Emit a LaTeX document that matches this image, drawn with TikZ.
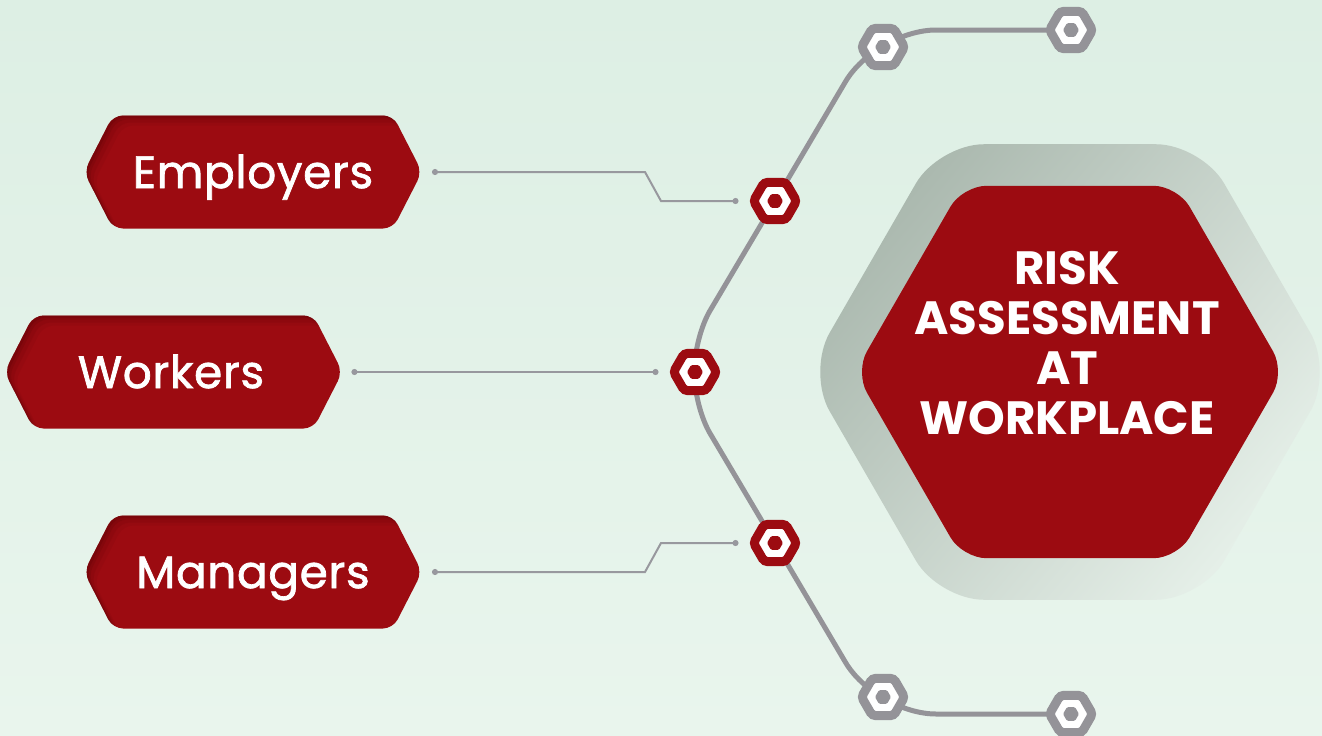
\documentclass[tikz,border=0pt]{standalone}
\usepackage{fontspec}
\setmainfont{Poppins}
\newfontfamily\lblfont{Poppins}[FakeBold=1.6,LetterSpace=1.5]
\usetikzlibrary{shapes.geometric,arrows.meta,calc}
\definecolor{bgtop}{RGB}{221,239,228}
\definecolor{bgbot}{RGB}{233,245,237}
\definecolor{riskred}{RGB}{156,11,17}
\definecolor{riskdark}{RGB}{100,4,8}
\definecolor{hexgray}{RGB}{148,147,152}
\definecolor{linegray}{RGB}{152,152,158}
\definecolor{halodark}{RGB}{170,184,174}
\definecolor{halolight}{RGB}{230,240,233}
\pgfdeclarelayer{back}
\pgfdeclarelayer{mid}
\pgfsetlayers{back,mid,main}
\newcommand\lblshape[2]{%
  \begin{scope}[rounded corners=7.5pt]
    \path[clip] (#1-169,#2) -- (#1-140,#2-56.5) -- (#1+140,#2-56.5) -- (#1+169,#2) -- (#1+140,#2+56.5) -- (#1-140,#2+56.5) -- cycle;
    \fill[riskred] (#1-180,#2-70) rectangle (#1+180,#2+70);
    \foreach \o/\a in {2/0.3,4/0.22,7/0.15,10/0.1}{
      \fill[riskdark,opacity=\a,even odd rule] (#1-200,#2-80) rectangle (#1+200,#2+80)
        (#1-169+\o,#2+\o) -- (#1-140+\o,#2-56.5+\o) -- (#1+140+\o,#2-56.5+\o) -- (#1+169+\o,#2+\o) -- (#1+140+\o,#2+56.5+\o) -- (#1-140+\o,#2+56.5+\o) -- cycle;
    }
  \end{scope}}
\begin{document}
\begin{tikzpicture}[x=0.75pt,y=-0.75pt,
  labelbox/.style={rectangle, inner sep=0pt, outer sep=0pt, minimum width=253.5pt, minimum height=84.75pt, text height=24pt, text depth=0pt, text=white, font=\lblfont\fontsize{34}{40}\selectfont},
  titletext/.style={align=center, inner sep=0pt, text=white, font=\bfseries\fontsize{35}{37.5}\selectfont},
  halohex/.style={regular polygon, regular polygon sides=6, inner sep=0pt, outer sep=0pt, minimum size=394.5pt, rounded corners=34pt, top color=halodark, bottom color=halolight, shading angle=50},
  corehex/.style={regular polygon, regular polygon sides=6, inner sep=0pt, outer sep=0pt, minimum size=322.5pt, rounded corners=18pt, fill=riskred},
  hexring/.style={regular polygon, regular polygon sides=6, inner sep=0pt, outer sep=0pt, minimum size=32.25pt, fill=white, line width=6.75pt, rounded corners=2.5pt},
  hexred/.style={hexring, draw=riskred},
  hexgrey/.style={hexring, draw=hexgray},
  hexdot/.style={regular polygon, regular polygon sides=6, inner sep=0pt, outer sep=0pt, minimum size=12pt, rounded corners=1pt},
  dotred/.style={hexdot, fill=riskred},
  dotgrey/.style={hexdot, fill=hexgray},
  maincurve/.style={draw=hexgray, line width=3.75pt},
  thinline/.style={draw=linegray, line width=1.5pt, {Circle[length=4.5pt]}-{Circle[length=4.5pt]}}
]
\useasboundingbox (0,0) rectangle (1322,736);
\begin{pgfonlayer}{back}
  \fill[top color=bgtop, bottom color=bgbot] (0,0) rectangle (1322,736);
\end{pgfonlayer}

% central hexagon
\node[halohex] (halo) at (1070,372) {};
\node[corehex] (core) at (1070,372) {};
\node[titletext] (title) at (1067,343) {RISK\\ASSESSMENT\\AT\\WORKPLACE};

% labels
\node[labelbox] (emp) at (253,172) {Employers};
\node[labelbox] (wrk) at (171,372) {Workers};
\node[labelbox] (mgr) at (253,572) {Managers};

% small hexagons
\node[hexred] (h1) at (775,201) {};
\node[dotred] (h1d) at (h1) {};
\node[hexred] (h2) at (695,372) {};
\node[dotred] (h2d) at (h2) {};
\node[hexred] (h3) at (775,543) {};
\node[dotred] (h3d) at (h3) {};
\node[hexgrey] (g1) at (883,47) {};
\node[dotgrey] (g1d) at (g1) {};
\node[hexgrey] (g2) at (1071,30) {};
\node[dotgrey] (g2d) at (g2) {};
\node[hexgrey] (g3) at (883,697) {};
\node[dotgrey] (g3d) at (g3) {};
\node[hexgrey] (g4) at (1071,714) {};
\node[dotgrey] (g4d) at (g4) {};

\coordinate (c1) at (876,30);
\coordinate (c2) at (695,336);
\coordinate (c3) at (695,408);
\coordinate (c4) at (876,714);

\begin{pgfonlayer}{mid}
  \lblshape{253}{172}
  \lblshape{173.5}{372}
  \lblshape{253}{572}
  \draw[maincurve, rounded corners=45pt] (g2.center) -- (c1) -- (h1.center);
  \draw[maincurve, rounded corners=22pt] (h1.center) -- (c2) -- (h2.center);
  \draw[maincurve, rounded corners=22pt] (h2.center) -- (c3) -- (h3.center);
  \draw[maincurve, rounded corners=45pt] (h3.center) -- (c4) -- (g4.center);
  \draw[thinline] ([xshift=7.5pt]emp.east) -- (645,172) -- (661,201) -- ([xshift=-11.25pt]h1.west);
  \draw[thinline] ([xshift=8.6pt]wrk.east) -- ([xshift=-11.25pt]h2.west);
  \draw[thinline] ([xshift=7.5pt]mgr.east) -- (645,572) -- (661,543) -- ([xshift=-11.25pt]h3.west);
\end{pgfonlayer}
\end{tikzpicture}
\end{document}
